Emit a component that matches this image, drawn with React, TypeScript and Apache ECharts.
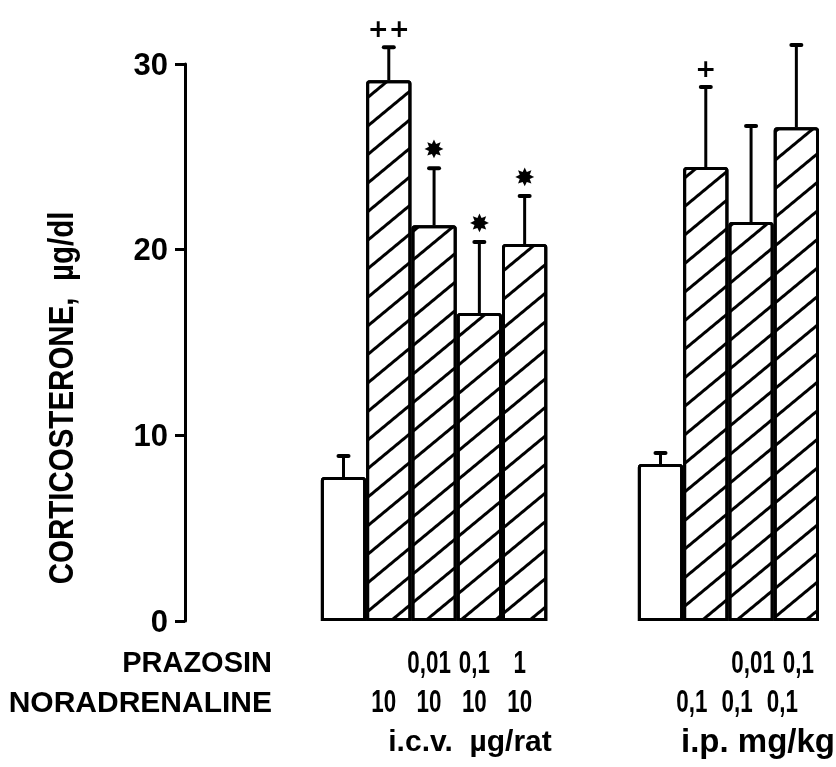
import React, { useEffect, useRef } from "react";
import * as echarts from "echarts";

// ---- data ----
const slotCount = 14;
const icvSlots = [3, 4, 5, 6, 7];
const icvMeans = [7.75, 29.13, 21.32, 16.59, 20.3];
const icvErrTops = [8.89, 30.9, 24.39, 20.41, 22.89];
const icvMarks = ["", "++", "✸", "✸", "✸"];
const icvPrazosin = ["", "", "0,01", "0,1", "1"];
const icvNoradrenaline = ["", "10", "10", "10", "10"];

const ipSlots = [10, 11, 12, 13];
const ipMeans = [8.45, 24.45, 21.49, 26.6];
const ipErrTops = [9.05, 28.76, 26.66, 31.02];
const ipMarks = ["", "+", "", ""];
const ipPrazosin = ["", "", "0,01", "0,1"];
const ipNoradrenaline = ["", "0,1", "0,1", "0,1"];

const yTicks = [0, 10, 20, 30];
const yTitle = "CORTICOSTERONE,  µg/dl";
const rowTitles = ["PRAZOSIN", "NORADRENALINE"];
const groupUnits = ["i.c.v.  µg/rat", "i.p. mg/kg"];

type Item = { slot: number; mean: number; err: number; mark: string; praz: string; na: string; control: boolean; group: number };

const items: Item[] = [
  ...icvSlots.map((s, i) => ({ slot: s, mean: icvMeans[i], err: icvErrTops[i], mark: icvMarks[i], praz: icvPrazosin[i], na: icvNoradrenaline[i], control: i === 0, group: 0 })),
  ...ipSlots.map((s, i) => ({ slot: s, mean: ipMeans[i], err: ipErrTops[i], mark: ipMarks[i], praz: ipPrazosin[i], na: ipNoradrenaline[i], control: i === 0, group: 1 })),
];

const categories = Array.from({ length: slotCount }, (_, i) => String(i));

const SANS = "'Liberation Sans', Arial, sans-serif";

export default function App() {
  const ref = useRef<HTMLDivElement>(null);
  useEffect(() => {
    const chart = echarts.init(ref.current!, null, { renderer: "svg" });
    const controlData: any[] = categories.map(() => "-");
    const hatchData: any[] = categories.map(() => "-");
    items.forEach((it) => {
      if (it.control) controlData[it.slot] = it.mean;
      else hatchData[it.slot] = it.mean;
    });
    const option: any = {
      animation: false,
      aria: { enabled: true, decal: { show: true } },
      grid: { left: 185, right: 17, top: 64, bottom: 146 },
      xAxis: {
        type: "category",
        data: categories,
        show: false,
      },
      yAxis: {
        type: "value",
        min: 0,
        max: 30,
        interval: 10,
        axisLine: { show: true, lineStyle: { color: "#000", width: 3 } },
        axisTick: { show: true, length: 10, lineStyle: { color: "#000", width: 3 } },
        axisLabel: { color: "#000", fontSize: 31, fontWeight: "bold", fontFamily: "Liberation Sans", margin: 17 },
        splitLine: { show: false },
      },
      series: [
        {
          type: "bar",
          data: controlData,
          barWidth: "100%",
          barGap: "-100%",
          itemStyle: { color: "#fff", borderColor: "#000", borderWidth: 3, borderRadius: [2, 2, 0, 0], decal: { symbol: "none" } },
        },
        {
          type: "bar",
          data: hatchData,
          barWidth: "100%",
          barGap: "-100%",
          itemStyle: {
            color: "#fff",
            borderColor: "#000",
            borderWidth: 3,
            borderRadius: [2, 2, 0, 0],
            decal: {
              symbol: "rect",
              symbolSize: 1,
              dashArrayX: [1, 0],
              dashArrayY: [2.5, 19],
              rotation: -Math.PI * 0.22,
              color: "#000",
            },
          },
        },
        {
          type: "custom",
          clip: false,
          z: 5,
          data: items.map((it) => [it.slot, it.mean, it.err]),
          encode: { x: 0, y: [1, 2] },
          renderItem: (params: any, api: any) => {
            const it = items[params.dataIndex];
            const slot = api.value(0);
            const pMean = api.coord([slot, api.value(1)]);
            const pErr = api.coord([slot, api.value(2)]);
            const pBase = api.coord([slot, 0]);
            const cx = pMean[0];
            const children: any[] = [
              { type: "line", shape: { x1: cx, y1: pMean[1], x2: cx, y2: pErr[1] }, style: { stroke: "#000", lineWidth: 3 } },
              { type: "line", shape: { x1: cx - 5, y1: pErr[1], x2: cx + 5, y2: pErr[1] }, style: { stroke: "#000", lineWidth: 4, lineCap: "round" } },
            ];
            if (it.mark) {
              const star = it.mark === "✸";
              children.push({
                type: "text",
                x: cx,
                y: pErr[1] - 19,
                style: {
                  x: 0,
                  y: 0,
                  text: it.mark,
                  align: "center",
                  verticalAlign: "middle",
                  fill: "#000",
                  font: star ? "bold 25px 'DejaVu Sans'" : "bold 25px 'DejaVu Sans'",
                },
              });
            }
            const dxRow1 = it.group === 0 ? -5 : 2;
            const dxRow2 = it.group === 0 ? -5 : -14;
            if (it.praz) {
              children.push({ type: "text", x: cx + dxRow1, y: pBase[1] + 41, scaleX: 0.7, style: { x: 0, y: 0, text: it.praz, align: "center", verticalAlign: "middle", fill: "#000", font: `bold 32px ${SANS}` } });
            }
            if (it.na) {
              children.push({ type: "text", x: cx + dxRow2, y: pBase[1] + 80, scaleX: 0.7, style: { x: 0, y: 0, text: it.na, align: "center", verticalAlign: "middle", fill: "#000", font: `bold 32px ${SANS}` } });
            }
            return { type: "group", children };
          },
        },
      ],
      graphic: [
        { type: "text", x: 60, y: 398, rotation: Math.PI / 2, scaleX: 0.82, style: { text: yTitle, x: 0, y: 0, align: "center", verticalAlign: "middle", fill: "#000", font: `bold 36px ${SANS}` } },
        { type: "text", x: 272, y: 662, style: { text: rowTitles[0], align: "right", verticalAlign: "middle", fill: "#000", font: `bold 29px ${SANS}` } },
        { type: "text", x: 272, y: 701, style: { text: rowTitles[1], align: "right", verticalAlign: "middle", fill: "#000", font: `bold 30px ${SANS}` } },
        { type: "text", x: 470, y: 740, style: { text: groupUnits[0], align: "center", verticalAlign: "middle", fill: "#000", font: `bold 30px ${SANS}` } },
        { type: "text", x: 835, y: 740, style: { text: groupUnits[1], align: "right", verticalAlign: "middle", fill: "#000", font: `bold 33px ${SANS}` } },
      ],
    };
    chart.setOption(option);
    return () => chart.dispose();
  }, []);
  return <div ref={ref} style={{ position: "fixed", left: 0, top: 0, width: 836, height: 767 }} />;
}
